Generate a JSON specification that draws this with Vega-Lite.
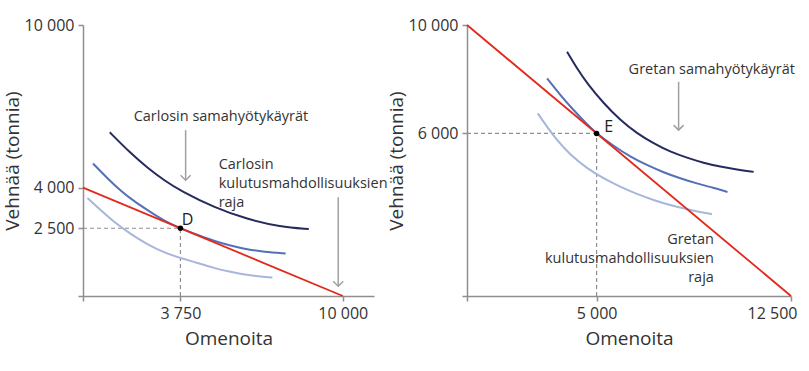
{
  "$schema": "https://vega.github.io/schema/vega-lite/v6.json",
  "background": "white",
  "padding": {"left": 3, "top": 17, "right": 0, "bottom": 12},
  "spacing": -1,
  "config": {
    "font": "Open Sans",
    "view": {"stroke": null},
    "axis": {"grid": false, "domainColor": "#8f8f8f", "domainWidth": 1.5, "tickColor": "#8f8f8f", "tickWidth": 1.5, "tickSize": 5, "labelFontSize": 16, "labelColor": "#333333", "labelPadding": 4, "titleFontSize": 19, "titleFontWeight": "normal", "titleColor": "#333333", "labelFont": "Open Sans", "titleFont": "Open Sans", "labelOverlap": false}
  },
  "datasets": {
    "curvesL": [
      {"curve": "dark", "x": 1030, "y": 6040}, {"curve": "dark", "x": 1840, "y": 5260}, {"curve": "dark", "x": 2480, "y": 4730}, {"curve": "dark", "x": 3120, "y": 4270}, {"curve": "dark", "x": 3760, "y": 3880}, {"curve": "dark", "x": 5040, "y": 3270}, {"curve": "dark", "x": 6320, "y": 2830}, {"curve": "dark", "x": 7600, "y": 2550}, {"curve": "dark", "x": 8690, "y": 2470},
      {"curve": "medium", "x": 385, "y": 4890}, {"curve": "medium", "x": 940, "y": 4340}, {"curve": "medium", "x": 1450, "y": 3880}, {"curve": "medium", "x": 1960, "y": 3500}, {"curve": "medium", "x": 2480, "y": 3170}, {"curve": "medium", "x": 3120, "y": 2770}, {"curve": "medium", "x": 3750, "y": 2500}, {"curve": "medium", "x": 4400, "y": 2260}, {"curve": "medium", "x": 5040, "y": 2030}, {"curve": "medium", "x": 5680, "y": 1860}, {"curve": "medium", "x": 6320, "y": 1720}, {"curve": "medium", "x": 6960, "y": 1630}, {"curve": "medium", "x": 7800, "y": 1570},
      {"curve": "light", "x": 170, "y": 3620}, {"curve": "light", "x": 680, "y": 3170}, {"curve": "light", "x": 1190, "y": 2730}, {"curve": "light", "x": 1840, "y": 2280}, {"curve": "light", "x": 2480, "y": 1900}, {"curve": "light", "x": 3120, "y": 1600}, {"curve": "light", "x": 3760, "y": 1400}, {"curve": "light", "x": 4400, "y": 1220}, {"curve": "light", "x": 5040, "y": 1030}, {"curve": "light", "x": 5680, "y": 890}, {"curve": "light", "x": 6320, "y": 765}, {"curve": "light", "x": 7290, "y": 680}
    ],
    "budgetL": [{"x": 0, "y": 4000}, {"x": 10000, "y": 0}],
    "dashL": [{"x": 0, "y": 2500, "x2": 3750, "y2": 2500}, {"x": 3750, "y": 0, "x2": 3750, "y2": 2500}],
    "arrowsL": [{"x": 3950, "y": 6120, "y2": 4274}, {"x": 9823, "y": 3640, "y2": 360}],
    "headsL": [{"x": 3950, "y": 4274}, {"x": 9823, "y": 360}],
    "pointL": [{"x": 3750, "y": 2500}],
    "labelsL": [{"x": 1950, "y": 6600, "label": "Carlosin samahyötykäyrät"}, {"x": 5220, "y": 4828, "label": "Carlosin\nkulutusmahdollisuuksien\nraja"}],
    "letterL": [{"x": 4027, "y": 2815, "label": "D"}],
    "curvesR": [
      {"curve": "dark", "x": 3860, "y": 9010}, {"curve": "dark", "x": 4240, "y": 8400}, {"curve": "dark", "x": 4630, "y": 7850}, {"curve": "dark", "x": 5270, "y": 7110}, {"curve": "dark", "x": 5910, "y": 6490}, {"curve": "dark", "x": 6560, "y": 6000}, {"curve": "dark", "x": 7200, "y": 5630}, {"curve": "dark", "x": 7840, "y": 5320}, {"curve": "dark", "x": 8490, "y": 5100}, {"curve": "dark", "x": 9130, "y": 4910}, {"curve": "dark", "x": 9770, "y": 4770}, {"curve": "dark", "x": 10420, "y": 4660}, {"curve": "dark", "x": 11060, "y": 4580},
      {"curve": "medium", "x": 3090, "y": 8030}, {"curve": "medium", "x": 3600, "y": 7410}, {"curve": "medium", "x": 4110, "y": 6860}, {"curve": "medium", "x": 4630, "y": 6340}, {"curve": "medium", "x": 5000, "y": 6000}, {"curve": "medium", "x": 5660, "y": 5530}, {"curve": "medium", "x": 6300, "y": 5140}, {"curve": "medium", "x": 6940, "y": 4830}, {"curve": "medium", "x": 7590, "y": 4560}, {"curve": "medium", "x": 8230, "y": 4340}, {"curve": "medium", "x": 8870, "y": 4150}, {"curve": "medium", "x": 9510, "y": 3990}, {"curve": "medium", "x": 10050, "y": 3840},
      {"curve": "light", "x": 2730, "y": 6740}, {"curve": "light", "x": 3090, "y": 6240}, {"curve": "light", "x": 3470, "y": 5750}, {"curve": "light", "x": 3990, "y": 5200}, {"curve": "light", "x": 4630, "y": 4710}, {"curve": "light", "x": 5270, "y": 4340}, {"curve": "light", "x": 5910, "y": 4030}, {"curve": "light", "x": 6560, "y": 3760}, {"curve": "light", "x": 7200, "y": 3540}, {"curve": "light", "x": 7840, "y": 3350}, {"curve": "light", "x": 8490, "y": 3200}, {"curve": "light", "x": 9000, "y": 3100}, {"curve": "light", "x": 9450, "y": 3020}
    ],
    "budgetR": [{"x": 0, "y": 10000}, {"x": 12500, "y": 0}],
    "dashR": [{"x": 0, "y": 6000, "x2": 5000, "y2": 6000}, {"x": 5000, "y": 0, "x2": 5000, "y2": 6000}],
    "arrowsR": [{"x": 8164, "y": 7905, "y2": 6121}],
    "headsR": [{"x": 8164, "y": 6121}],
    "pointR": [{"x": 5000, "y": 6000}],
    "labelsR1": [{"x": 6235, "y": 8338, "label": "Gretan samahyötykäyrät"}],
    "labelsR2": [{"x": 9525, "y": 2058, "label": "Gretan\nkulutusmahdollisuuksien\nraja"}],
    "letterR": [{"x": 5463, "y": 6221, "label": "E"}]
  },
  "hconcat": [
    {
      "width": 291,
      "height": 271,
      "encoding": {
        "x": {"field": "x", "type": "quantitative", "scale": {"domain": [0, 11200], "nice": false, "zero": false}, "axis": {"title": "Omenoita", "values": [0, 3750, 10000], "labelExpr": "datum.value == 0 ? '' : replace(format(datum.value, ','), ',', ' ')", "titlePadding": 8, "labelFlush": false}},
        "y": {"field": "y", "type": "quantitative", "scale": {"domain": [0, 10000], "nice": false}, "axis": {"title": "Vehnää (tonnia)", "values": [0, 2500, 4000, 10000], "labelExpr": "datum.value == 0 ? '' : replace(format(datum.value, ','), ',', ' ')", "titlePadding": 2, "labelFlush": false}}
      },
      "layer": [
        {"data": {"name": "dashL"}, "mark": {"type": "rule", "stroke": "#8f8f8f", "strokeDash": [4, 3], "strokeWidth": 1.2}, "encoding": {"x2": {"field": "x2"}, "y2": {"field": "y2"}}},
        {"data": {"name": "curvesL"}, "mark": {"type": "line", "interpolate": "basis", "strokeWidth": 2}, "encoding": {"color": {"field": "curve", "type": "nominal", "scale": {"domain": ["dark", "medium", "light"], "range": ["#262b5e", "#5470b6", "#a8b6dc"]}, "legend": null}}},
        {"data": {"name": "budgetL"}, "mark": {"type": "line", "color": "#e3281b", "strokeWidth": 1.8}, "encoding": {}},
        {"data": {"name": "arrowsL"}, "mark": {"type": "rule", "color": "#a0a0a0", "strokeWidth": 1.5}, "encoding": {"y2": {"field": "y2"}}},
        {"data": {"name": "headsL"}, "mark": {"type": "point", "shape": "M-1,-1L0,0L1,-1", "filled": false, "color": "#a0a0a0", "strokeWidth": 1.5, "size": 100, "opacity": 1}, "encoding": {}},
        {"data": {"name": "pointL"}, "mark": {"type": "point", "filled": true, "color": "#000000", "size": 30, "opacity": 1}, "encoding": {}},
        {"data": {"name": "labelsL"}, "mark": {"type": "text", "align": "left", "baseline": "middle", "fontSize": 14.5, "lineBreak": "\n", "lineHeight": 19, "color": "#333333"}, "encoding": {"text": {"field": "label"}}},
        {"data": {"name": "letterL"}, "mark": {"type": "text", "align": "center", "baseline": "middle", "fontSize": 16, "color": "#222222"}, "encoding": {"text": {"field": "label"}}}
      ]
    },
    {
      "width": 324,
      "height": 271,
      "encoding": {
        "x": {"field": "x", "type": "quantitative", "scale": {"domain": [0, 12500], "nice": false, "zero": false}, "axis": {"title": "Omenoita", "values": [0, 5000, 12500], "labelExpr": "datum.value == 0 ? '' : replace(format(datum.value, ','), ',', ' ')", "titlePadding": 8, "labelFlush": true, "labelFlushOffset": 6}},
        "y": {"field": "y", "type": "quantitative", "scale": {"domain": [0, 10000], "nice": false}, "axis": {"title": "Vehnää (tonnia)", "values": [0, 6000, 10000], "labelExpr": "datum.value == 0 ? '' : replace(format(datum.value, ','), ',', ' ')", "titlePadding": 2, "labelFlush": false}}
      },
      "layer": [
        {"data": {"name": "dashR"}, "mark": {"type": "rule", "stroke": "#8f8f8f", "strokeDash": [4, 3], "strokeWidth": 1.2}, "encoding": {"x2": {"field": "x2"}, "y2": {"field": "y2"}}},
        {"data": {"name": "curvesR"}, "mark": {"type": "line", "interpolate": "basis", "strokeWidth": 2}, "encoding": {"color": {"field": "curve", "type": "nominal", "scale": {"domain": ["dark", "medium", "light"], "range": ["#262b5e", "#5470b6", "#a8b6dc"]}, "legend": null}}},
        {"data": {"name": "budgetR"}, "mark": {"type": "line", "color": "#e3281b", "strokeWidth": 1.8}, "encoding": {}},
        {"data": {"name": "arrowsR"}, "mark": {"type": "rule", "color": "#a0a0a0", "strokeWidth": 1.5}, "encoding": {"y2": {"field": "y2"}}},
        {"data": {"name": "headsR"}, "mark": {"type": "point", "shape": "M-1,-1L0,0L1,-1", "filled": false, "color": "#a0a0a0", "strokeWidth": 1.5, "size": 100, "opacity": 1}, "encoding": {}},
        {"data": {"name": "pointR"}, "mark": {"type": "point", "filled": true, "color": "#000000", "size": 30, "opacity": 1}, "encoding": {}},
        {"data": {"name": "labelsR1"}, "mark": {"type": "text", "align": "left", "baseline": "middle", "fontSize": 14.5, "color": "#333333"}, "encoding": {"text": {"field": "label"}}},
        {"data": {"name": "labelsR2"}, "mark": {"type": "text", "align": "right", "baseline": "middle", "fontSize": 14.5, "lineBreak": "\n", "lineHeight": 19, "color": "#333333"}, "encoding": {"text": {"field": "label"}}},
        {"data": {"name": "letterR"}, "mark": {"type": "text", "align": "center", "baseline": "middle", "fontSize": 16, "color": "#222222"}, "encoding": {"text": {"field": "label"}}}
      ]
    }
  ]
}
